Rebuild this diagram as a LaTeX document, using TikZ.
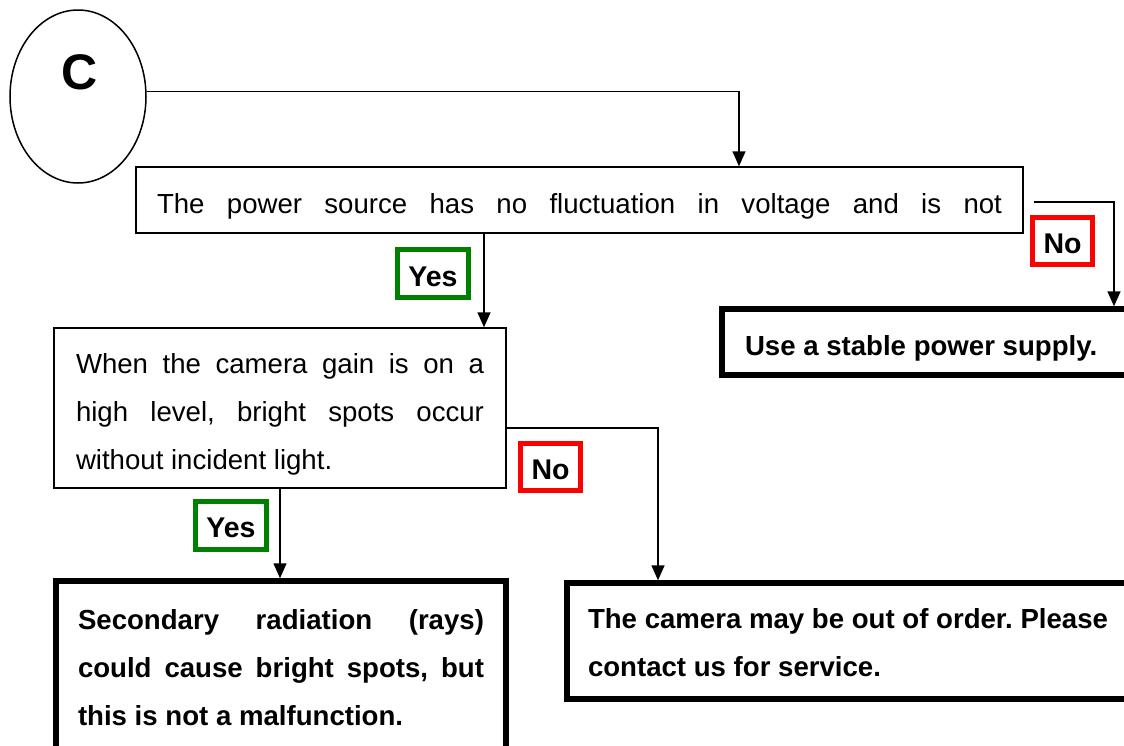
\documentclass[tikz,border=0pt]{standalone}
\usepackage{fontspec}
\setmainfont{Liberation Sans}
\usetikzlibrary{shapes.geometric,positioning,arrows.meta,calc}
\definecolor{yesgreen}{RGB}{0,128,0}
\newcommand\spreadline[2]{\makebox[#1][s]{\spaceskip=.278em plus 1fil\relax #2}}
\newcommand\droptext[1]{\rule{0pt}{#1}}
\frenchspacing

\begin{document}
\begin{tikzpicture}[
  x=1pt, y=-1pt,
  plainspace/.style={execute at begin node={\spaceskip=.278em plus .1em minus .05em\relax}},
  question/.style={rectangle, draw, line width=1.5pt, align=left, font=\fontsize{27.6}{48}\selectfont, inner ysep=0pt, plainspace},
  answer/.style={rectangle, draw, line width=5.5pt, align=left, font=\fontsize{27.6}{48}\selectfont\bfseries, inner ysep=0pt, plainspace},
  tag/.style={rectangle, draw, line width=5pt, font=\fontsize{28.5}{30}\selectfont\bfseries, inner sep=0pt},
  arrow/.style={-{Triangle[length=15pt, width=13pt]}, line width=1.6pt},
]
\useasboundingbox (0,0) rectangle (1124,745);
\clip (0,0) rectangle (1124,745);

% === START ===
\node[ellipse, draw, line width=1.5pt, minimum width=136pt, minimum height=173pt] (start) at (78,96.5) {};
\node[font=\fontsize{50}{50}\selectfont\bfseries] (startlbl) at (80,72) {C};

% === QUESTIONS ===
\node[question, text width=845pt, inner xsep=21pt, minimum height=66pt] (q1) at (579.5,200)
  {\droptext{32pt}\spreadline{845pt}{The power source has no fluctuation in voltage and is not}};
\node[question, text width=408pt, inner xsep=22pt, minimum height=160pt] (q2) at (280,408)
  {\droptext{32pt}\spreadline{408pt}{When the camera gain is on a}\\
   \spreadline{408pt}{high level, bright spots occur}\\
   without incident light.};

% === ANSWERS ===
\node[answer, text width=370pt, inner xsep=23pt, minimum height=66pt] (r1) at (930,342)
  {\droptext{32pt}Use a stable power supply.};
\node[answer, text width=406pt, inner xsep=22pt, minimum height=174pt] (r2) at (281,668)
  {\spreadline{406pt}{Secondary radiation (rays)}\\
   \spreadline{406pt}{could cause bright spots, but}\\
   this is not a malfunction.};
\node[answer, text width=540pt, inner xsep=21pt, minimum height=116pt] (r3) at (858,641)
  {\droptext{24pt}The camera may be out of order. Please\\
   contact us for service.};

% === YES / NO TAGS ===
\node[tag, draw=yesgreen, minimum width=71pt, minimum height=48pt] (yes1) at (433,273.5) {\droptext{27pt}Yes};
\node[tag, draw=red, minimum width=60pt, minimum height=47pt] (no1) at (1062.5,241) {\droptext{25pt}No};
\node[tag, draw=yesgreen, minimum width=71pt, minimum height=48pt] (yes2) at (231,525.5) {\droptext{25pt}Yes};
\node[tag, draw=red, minimum width=60pt, minimum height=47pt] (no2) at (550.5,467) {\droptext{25pt}No};

% === CONNECTORS ===
\draw[arrow] ([yshift=5pt]start.east) -| ([xshift=159.5pt]q1.north);
\draw[arrow] ([xshift=10pt,yshift=-2pt]q1.east) -| ([xshift=184pt]r1.north);
\draw[arrow] ([xshift=-95.5pt]q1.south) -- ([xshift=-95.5pt]q1.south |- q2.north);
\draw[arrow] ([yshift=-20pt]q2.east) -| ([xshift=-200pt]r3.north);
\draw[arrow] (q2.south) -- (q2.south |- r2.north);
\end{tikzpicture}
\end{document}
